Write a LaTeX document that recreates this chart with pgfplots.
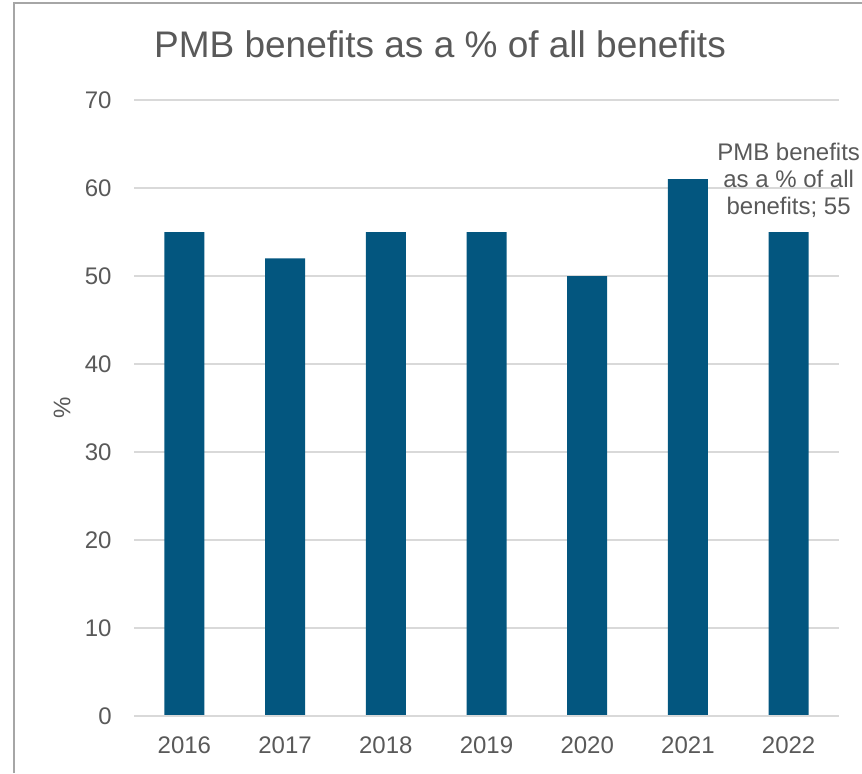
\documentclass[border=0pt]{standalone}
\usepackage{pgfplots}
\pgfplotsset{compat=1.18}
\usepackage{fontspec}
\setmainfont{Liberation Sans}
\definecolor{barblue}{HTML}{03567F}
\definecolor{txtgray}{HTML}{595959}
\definecolor{gridgray}{HTML}{D9D9D9}
\definecolor{bordergray}{HTML}{A6A6A6}
\begin{document}
\begin{tikzpicture}[x=1pt,y=1pt]
\useasboundingbox (0,0) rectangle (431,386.5);
\draw[bordergray, line width=0.9pt] (7,0) -- (7,385) -- (431,385);
\node[anchor=base, text=txtgray, font=\fontsize{18.5}{22}\selectfont, inner sep=0pt] at (220,357.5) {PMB benefits as a \% of all benefits};
\begin{axis}[
  at={(67pt,28.5pt)}, anchor=south west,
  scale only axis, width=352.5pt, height=308pt,
  xmin=-0.5, xmax=6.5, ymin=0, ymax=70,
  ytick={0,10,...,70},
  xtick={0,...,6},
  xticklabels={2016,2017,2018,2019,2020,2021,2022},
  major tick length=0pt,
  axis line style={draw=none},
  axis x line*=bottom, axis y line*=left,
  ymajorgrids, grid style={gridgray, line width=0.75pt},
  /pgf/number format/assume math mode=true,
  tick label style={text=txtgray, font=\fontsize{12}{14}\selectfont, inner sep=0pt},
  yticklabel style={xshift=-11pt},
  xticklabel style={yshift=-10pt},
  ylabel={\%},
  ylabel style={at={(axis description cs:-0.102,0.5)}, anchor=center, text=txtgray, font=\fontsize{12}{14}\selectfont},
  clip=false,
]
\addplot[ybar, bar width=20pt, fill=barblue, draw=none] coordinates {(0,55) (1,52) (2,55) (3,55) (4,50) (5,61) (6,55)};
\draw[gridgray, line width=0.75pt] (axis cs:-0.5,0) -- (axis cs:6.5,0);
\node[anchor=south, align=center, text=txtgray, font=\fontsize{12}{13.5}\selectfont, inner sep=0pt, yshift=7pt] at (axis cs:6,55) {PMB benefits\\as a \% of all\\benefits; 55};
\end{axis}
\end{tikzpicture}
\end{document}
